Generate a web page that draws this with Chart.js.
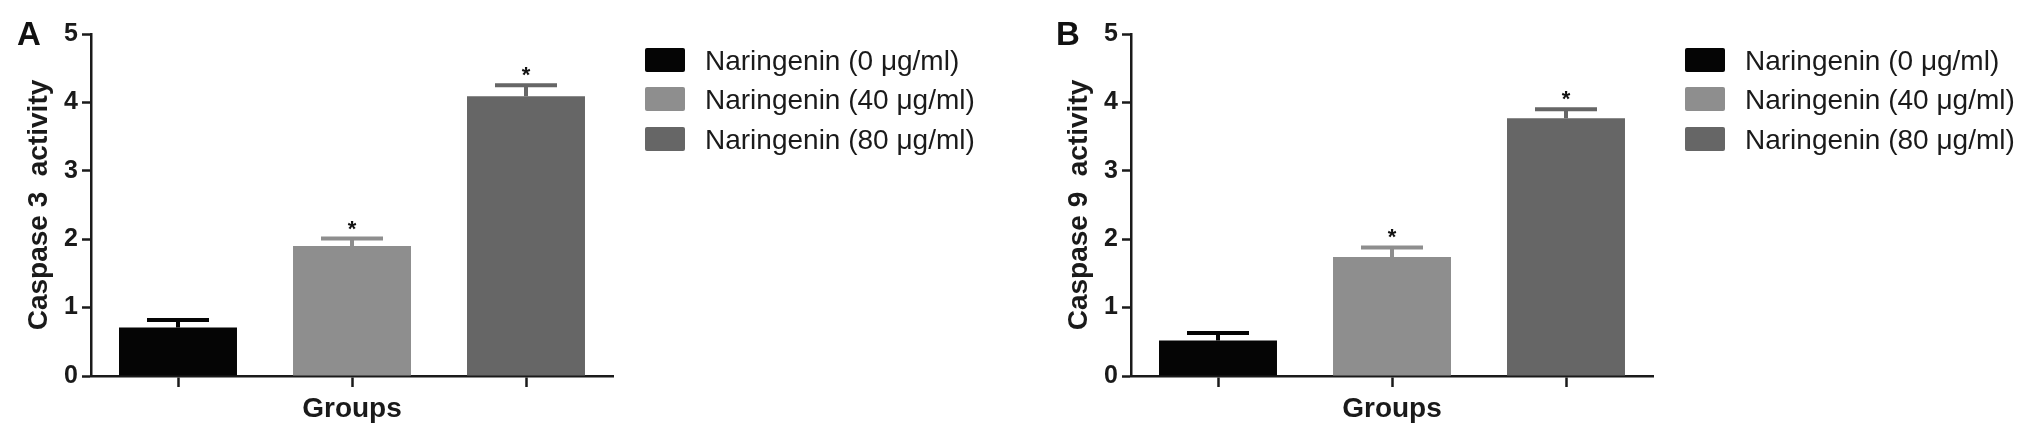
<!DOCTYPE html>
<html>
<head>
<meta charset="utf-8">
<script src="https://cdn.jsdelivr.net/npm/chart.js@4.4.1/dist/chart.umd.min.js"></script>
<style>
  body { margin: 0; background: #fff; font-family: 'Liberation Sans', Arial, sans-serif; }
  #wrap { position: relative; width: 2031px; height: 440px; overflow: hidden; }
  .panel { position: absolute; top: 0; height: 440px; }
  .letter { position: absolute; font-weight: bold; font-size: 33px; line-height: 33px; color: #111; }
  .legend { position: absolute; top: 48px; }
  .legend .row { position: relative; height: 39.3px; }
  .legend .box { position: absolute; left: 0; top: 0; width: 40px; height: 24px; border-radius: 2px; }
  .legend .txt { position: absolute; left: 60px; top: -1px; font-size: 28px; line-height: 28px; color: #1a1a1a; white-space: nowrap; }
</style>
</head>
<body>
<div id="wrap">
  <div class="panel" style="left:0;width:1040px"><canvas id="chartA" width="1040" height="440"></canvas></div>
  <div class="panel" style="left:1040px;width:991px"><canvas id="chartB" width="991" height="440"></canvas></div>
  <div class="letter" style="left:17px;top:17px">A</div>
  <div class="letter" style="left:1056px;top:17px">B</div>
  <div class="legend" id="legendA" style="left:645px"></div>
  <div class="legend" id="legendB" style="left:1685px"></div>
</div>
<script>
// groups (one bar each)
const groups = ['Naringenin (0 μg/ml)', 'Naringenin (40 μg/ml)', 'Naringenin (80 μg/ml)'];
const barColors = ['#050505', '#8e8e8e', '#666666'];

// panel A - caspase 3
const caspase3 = [0.71, 1.90, 4.09];
const caspase3Err = [0.11, 0.11, 0.16];

// panel B - caspase 9
const caspase9 = [0.52, 1.74, 3.77];
const caspase9Err = [0.11, 0.14, 0.13];

// significance stars
const significant = [false, true, true];

const yMin = 0, yMax = 5, yStep = 1;
const fontFamily = "'Liberation Sans', Arial, sans-serif";

// error bars + stars drawn on top of the bars
const errorBarPlugin = {
  id: 'errorBars',
  afterDatasetsDraw(chart) {
    const ctx = chart.ctx;
    const yScale = chart.scales.y;
    const meta = chart.getDatasetMeta(0);
    const ds = chart.data.datasets[0];
    meta.data.forEach((bar, i) => {
      const x = bar.x;
      const yVal = yScale.getPixelForValue(ds.data[i]);
      const yTop = yScale.getPixelForValue(ds.data[i] + ds.errors[i]);
      ctx.save();
      ctx.strokeStyle = barColors[i];
      ctx.lineWidth = 4;
      ctx.beginPath();
      ctx.moveTo(x, yVal);
      ctx.lineTo(x, yTop);
      ctx.moveTo(x - 31, yTop);
      ctx.lineTo(x + 31, yTop);
      ctx.stroke();
      if (significant[i]) {
        ctx.fillStyle = '#111';
        ctx.font = 'bold 22px ' + fontFamily;
        ctx.textAlign = 'center';
        ctx.textBaseline = 'alphabetic';
        ctx.fillText('*', x, yTop - 15 + 12);
      }
      ctx.restore();
    });
  }
};

function makeChart(id, values, errors, yTitle, rightPad) {
  return new Chart(document.getElementById(id), {
    type: 'bar',
    data: {
      labels: groups,
      datasets: [{
        data: values,
        errors: errors,
        backgroundColor: barColors,
        borderWidth: 0,
        barPercentage: 0.678,
        categoryPercentage: 1.0
      }]
    },
    options: {
      responsive: false,
      animation: false,
      layout: { padding: { top: 34, right: rightPad, left: 0, bottom: 0 } },
      plugins: { legend: { display: false }, tooltip: { enabled: false } },
      scales: {
        x: {
          grid: { offset: false, drawOnChartArea: false, drawTicks: true, tickLength: 11, tickWidth: 2.5, tickColor: '#1a1a1a' },
          border: { display: true, color: '#1a1a1a', width: 2.5 },
          ticks: { callback: () => '' },
          title: {
            display: true, text: 'Groups', color: '#1a1a1a',
            font: { family: fontFamily, size: 28, weight: 'bold' },
            padding: { top: 0, bottom: 14 }
          },
          afterFit(scale) { scale.height = 64; }
        },
        y: {
          min: yMin, max: yMax,
          grid: { drawOnChartArea: false, drawTicks: true, tickLength: 9, tickWidth: 2.5, tickColor: '#1a1a1a' },
          border: { display: true, color: '#1a1a1a', width: 2.5 },
          ticks: { stepSize: yStep, padding: 4, color: '#1a1a1a', font: { family: fontFamily, size: 25, weight: 'bold' } },
          title: {
            display: true, text: yTitle, color: '#1a1a1a',
            font: { family: fontFamily, size: 28, weight: 'bold' },
            padding: { top: 22, bottom: 0 }
          },
          afterFit(scale) { scale.width = 91; }
        }
      }
    },
    plugins: [errorBarPlugin]
  });
}

function makeLegend(id) {
  const el = document.getElementById(id);
  groups.forEach((g, i) => {
    const row = document.createElement('div');
    row.className = 'row';
    const box = document.createElement('div');
    box.className = 'box';
    box.style.background = barColors[i];
    const txt = document.createElement('div');
    txt.className = 'txt';
    txt.textContent = g;
    row.appendChild(box);
    row.appendChild(txt);
    el.appendChild(row);
  });
}

makeChart('chartA', caspase3, caspase3Err, 'Caspase 3  activity', 1040 - 613);
makeChart('chartB', caspase9, caspase9Err, 'Caspase 9  activity', 991 - 613);
makeLegend('legendA');
makeLegend('legendB');
</script>
</body>
</html>
